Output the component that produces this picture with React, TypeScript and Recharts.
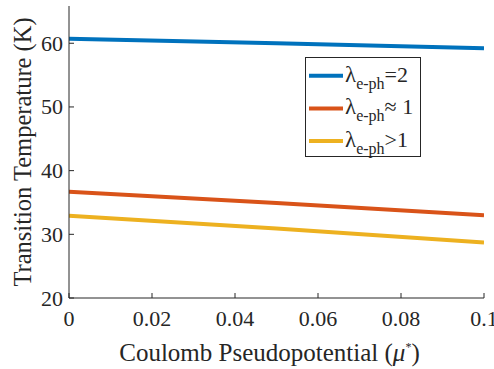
import React from 'react';
import { LineChart, Line, XAxis, YAxis, Legend } from 'recharts';

// Coulomb pseudopotential values (x) and transition temperatures (K)
const mu = [0, 0.05, 0.1];
const tcLambda2 = [60.7, 60.0, 59.2];
const tcLambdaApprox1 = [36.7, 34.9, 33.0];
const tcLambdaGt1 = [32.9, 30.9, 28.7];

const xTicks = [0, 0.02, 0.04, 0.06, 0.08, 0.1];
const xTickLabels = ['0', '0.02', '0.04', '0.06', '0.08', '0.1'];
const yTicks = [20, 30, 40, 50, 60];

const seriesNames = ['=2', '\u2248 1', '>1'];
const seriesColors = ['#0072BD', '#D95319', '#EDB120'];
const seriesKeys = ['l2', 'lApprox1', 'lGt1'];

const data = mu.map((m, i) => ({
  mu: m,
  l2: tcLambda2[i],
  lApprox1: tcLambdaApprox1[i],
  lGt1: tcLambdaGt1[i],
}));

const INK = '#262626';
const FONT = "'Liberation Serif', 'Times New Roman', serif";
const txt = { fontFamily: FONT };

const BottomTick = ({ x, y, payload }: any) => {
  const idx = xTicks.indexOf(payload.value);
  return (
    <g>
      <line x1={x} x2={x} y1={y} y2={y - 5} stroke={INK} strokeWidth={1} />
      <text x={x} y={y + 28} textAnchor="middle" fill={INK} fontSize={22} style={txt}>
        {idx >= 0 ? xTickLabels[idx] : payload.value}
      </text>
    </g>
  );
};

const TopTick = ({ x, y }: any) => (
  <line x1={x} x2={x} y1={y} y2={y + 5} stroke={INK} strokeWidth={1} />
);

const LeftTick = ({ x, y, payload }: any) => (
  <g>
    <line x1={x} x2={x + 5} y1={y} y2={y} stroke={INK} strokeWidth={1} />
    <text x={x - 6} y={y + 7.5} textAnchor="end" fill={INK} fontSize={22} style={txt}>
      {payload.value}
    </text>
  </g>
);

const RightTick = ({ x, y }: any) => (
  <line x1={x} x2={x - 5} y1={y} y2={y} stroke={INK} strokeWidth={1} />
);

const XLabel = ({ viewBox }: any) => {
  const cx = viewBox.x + viewBox.width / 2 - 7;
  const by = viewBox.y + 63;
  return (
    <text x={cx} y={by} textAnchor="middle" fill={INK} fontSize={25} style={txt}>
      Coulomb Pseudopotential (
      <tspan fontStyle="italic">{'\u03BC'}</tspan>
      <tspan fontSize={12} dy={-10}>*</tspan>
      <tspan dy={10}>)</tspan>
    </text>
  );
};

const YLabel = ({ viewBox }: any) => {
  const lx = 31;
  const cy = viewBox.y + viewBox.height / 2;
  return (
    <text
      x={lx}
      y={cy}
      transform={`rotate(-90, ${lx}, ${cy})`}
      textAnchor="middle"
      fill={INK}
      fontSize={24.5}
      style={txt}
    >
      Transition Temperature (K)
    </text>
  );
};

const LegendBox = () => (
  <svg width={117} height={101} style={{ display: 'block' }}>
    <rect x={0.5} y={0.5} width={115} height={99} fill="#fff" stroke={INK} strokeWidth={1} />
    {seriesNames.map((name, i) => {
      const cy = 18.7 + i * 32.7;
      return (
        <g key={name}>
          <line x1={4} x2={38} y1={cy} y2={cy} stroke={seriesColors[i]} strokeWidth={4} />
          <text x={40} y={cy + 6} fill={INK} fontSize={23} style={txt}>
            {'\u03BB'}
            <tspan dy={7} fontSize={16}>e-ph</tspan>
            <tspan dy={-7} fontSize={22}>{name}</tspan>
          </text>
        </g>
      );
    })}
  </svg>
);

export default function App() {
  return (
    <div style={{ position: 'absolute', left: 0, top: 0, width: 494, height: 369, background: '#fff' }}>
      <LineChart
        width={494}
        height={369}
        data={data}
        margin={{ top: 6, right: 10, bottom: 0, left: 0 }}
      >
        <XAxis
          dataKey="mu"
          type="number"
          domain={[0, 0.1]}
          ticks={xTicks}
          height={71}
          tickSize={0}
          tickMargin={0}
          tickLine={false}
          axisLine={{ stroke: INK, strokeWidth: 1 }}
          tick={<BottomTick />}
          interval={0}
          allowDataOverflow
          label={<XLabel />}
        />
        <XAxis
          xAxisId="top"
          orientation="top"
          dataKey="mu"
          type="number"
          domain={[0, 0.1]}
          ticks={xTicks}
          height={0}
          tickSize={0}
          tickMargin={0}
          tickLine={false}
          axisLine={{ stroke: INK, strokeWidth: 1 }}
          tick={<TopTick />}
          interval={0}
          allowDataOverflow
        />
        <YAxis
          type="number"
          domain={[20, 65.85]}
          ticks={yTicks}
          width={69}
          tickSize={0}
          tickMargin={0}
          tickLine={false}
          axisLine={{ stroke: INK, strokeWidth: 1 }}
          tick={<LeftTick />}
          interval={0}
          allowDataOverflow
          label={<YLabel />}
        />
        <YAxis
          yAxisId="right"
          orientation="right"
          type="number"
          domain={[20, 65.85]}
          ticks={yTicks}
          width={0}
          tickSize={0}
          tickMargin={0}
          tickLine={false}
          axisLine={{ stroke: INK, strokeWidth: 1 }}
          tick={<RightTick />}
          interval={0}
          allowDataOverflow
        />
        {seriesKeys.map((k, i) => (
          <Line
            key={k}
            dataKey={k}
            type="linear"
            stroke={seriesColors[i]}
            strokeWidth={4}
            dot={false}
            isAnimationActive={false}
          />
        ))}
        <Legend
          layout="vertical"
          align="center"
          verticalAlign="middle"
          content={<LegendBox />}
          wrapperStyle={{ left: 305, top: 57, width: 117, height: 101 }}
        />
      </LineChart>
    </div>
  );
}
